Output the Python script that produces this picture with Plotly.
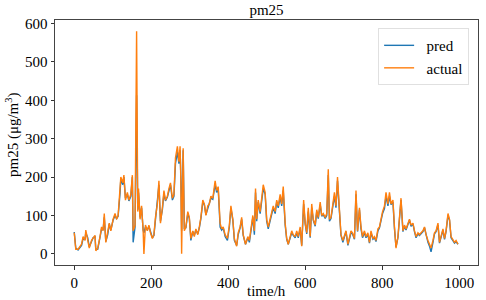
import plotly.graph_objects as go

time_h = [0, 4, 10, 19, 23, 28, 30, 35, 39, 45, 49, 54, 56, 61, 67, 71, 75, 78, 82, 87,
          91, 95, 101, 106, 110, 114, 119, 121, 126, 129, 133, 138, 142, 147, 151, 153, 158, 162, 165, 167,
          171, 175, 179, 181, 185, 190, 194, 198, 203, 207, 211, 216, 220, 224, 229, 233, 237, 242, 246, 250,
          255, 259, 263, 268, 272, 275, 277, 279, 283, 286, 290, 295, 299, 303, 308, 312, 316, 321, 325, 329,
          334, 338, 342, 347, 351, 355, 360, 366, 370, 374, 379, 383, 387, 392, 398, 403, 407, 412, 416, 422,
          426, 431, 435, 439, 445, 451, 455, 459, 464, 468, 471, 474, 478, 483, 487, 491, 496, 500, 504, 509,
          513, 517, 522, 526, 530, 535, 539, 543, 548, 552, 556, 561, 565, 569, 574, 578, 582, 587, 591, 596,
          600, 604, 608, 613, 617, 621, 626, 630, 634, 639, 643, 647, 652, 656, 660, 663, 667, 672, 676, 680,
          684, 689, 693, 698, 702, 706, 711, 715, 719, 723, 728, 732, 736, 741, 745, 749, 754, 758, 763, 767,
          771, 776, 780, 784, 789, 793, 797, 801, 806, 810, 815, 819, 823, 828, 832, 836, 841, 845, 849, 854,
          858, 862, 867, 871, 875, 880, 884, 888, 893, 897, 901, 906, 910, 914, 919, 923, 927, 932, 936, 940,
          945, 949, 953, 958, 962, 966, 971, 975, 979, 984, 988, 992, 997]

actual = [55, 12, 12, 25, 45, 35, 62, 40, 15, 35, 40, 48, 8, 15, 45, 70, 60, 105, 30, 55,
          80, 60, 90, 105, 90, 100, 165, 200, 185, 205, 140, 160, 140, 155, 205, 60, 75, 580, 110, 170,
          90, 125, 60, 0, 75, 60, 75, 55, 40, 50, 95, 130, 190, 80, 120, 165, 140, 150, 170, 185,
          145, 155, 250, 280, 240, 280, 190, 0, 275, 60, 70, 110, 95, 40, 60, 45, 65, 50, 70, 95,
          140, 130, 100, 125, 130, 150, 145, 190, 165, 175, 80, 65, 70, 50, 40, 75, 125, 90, 40, 20,
          55, 70, 95, 50, 25, 45, 35, 60, 100, 60, 170, 90, 140, 110, 140, 180, 160, 90, 70, 90,
          110, 125, 110, 140, 125, 155, 130, 175, 80, 40, 25, 45, 60, 50, 45, 60, 45, 70, 20, 140,
          80, 55, 120, 45, 130, 90, 75, 115, 95, 135, 100, 105, 95, 105, 220, 90, 95, 130, 160, 125,
          200, 115, 50, 35, 50, 60, 25, 40, 60, 55, 40, 165, 60, 120, 70, 45, 60, 45, 55, 30,
          60, 40, 45, 35, 65, 70, 95, 110, 125, 160, 130, 160, 130, 140, 70, 15, 45, 100, 145, 60,
          75, 65, 80, 90, 75, 80, 60, 45, 55, 50, 55, 60, 70, 50, 35, 25, 15, 35, 55, 60,
          80, 30, 45, 65, 40, 60, 105, 90, 45, 35, 30, 35, 25]

pred = [57, 15, 10, 22, 40, 38, 55, 42, 18, 32, 42, 45, 12, 12, 42, 65, 62, 95, 32, 50,
        78, 62, 88, 100, 92, 98, 158, 195, 180, 200, 145, 155, 138, 150, 200, 30, 70, 413, 115, 160,
        95, 120, 62, 55, 70, 62, 72, 58, 42, 48, 90, 125, 180, 85, 115, 158, 138, 148, 165, 180,
        140, 150, 235, 265, 235, 270, 200, 60, 270, 65, 68, 105, 92, 35, 58, 48, 62, 52, 68, 92,
        135, 128, 102, 120, 128, 145, 142, 180, 160, 170, 70, 62, 68, 45, 35, 70, 120, 88, 35, 22,
        50, 68, 90, 48, 25, 42, 30, 58, 95, 50, 160, 85, 135, 105, 135, 170, 155, 85, 65, 88,
        105, 120, 105, 135, 120, 148, 125, 165, 75, 38, 25, 40, 55, 48, 42, 55, 42, 65, 22, 130,
        78, 52, 110, 42, 120, 88, 72, 110, 92, 128, 98, 102, 92, 100, 205, 85, 92, 125, 150, 120,
        190, 110, 48, 30, 45, 58, 22, 38, 55, 52, 38, 155, 58, 115, 65, 42, 55, 42, 50, 28,
        55, 38, 42, 32, 60, 68, 90, 105, 118, 150, 125, 150, 128, 135, 65, 18, 42, 95, 140, 58,
        72, 62, 78, 88, 72, 78, 58, 42, 52, 48, 52, 58, 68, 48, 30, 20, 5, 30, 52, 58,
        75, 28, 42, 62, 38, 58, 100, 88, 42, 32, 28, 32, 25]

x_ticks = [0, 200, 400, 600, 800, 1000]
y_ticks = [0, 100, 200, 300, 400, 500, 600]

FONT = "Liberation Serif, Times New Roman, serif"
FS = 15
GAP = "\u00a0\u00a0"

fig = go.Figure()
fig.add_trace(go.Scatter(x=time_h, y=pred, mode="lines", name=GAP + "pred",
                         line=dict(color="#1f77b4", width=1.4)))
fig.add_trace(go.Scatter(x=time_h, y=actual, mode="lines", name=GAP + "actual",
                         line=dict(color="#ff7f0e", width=1.4)))

axis_common = dict(showgrid=False, zeroline=False, showline=True, linecolor="#444444",
                   linewidth=1, mirror=True, ticks="outside", ticklen=3.5, tickwidth=1,
                   tickcolor="#333333", automargin=False,
                   tickfont=dict(family=FONT, size=FS, color="black"))

fig.update_layout(
    width=486, height=300,
    margin=dict(l=55, r=8, t=20, b=35),
    paper_bgcolor="white", plot_bgcolor="white",
    font=dict(family=FONT, size=FS, color="black"),
    title=dict(text="pm25", xref="paper", x=0.5, xanchor="center",
               yref="container", y=1 - 10 / 300, yanchor="middle",
               font=dict(family=FONT, size=FS, color="black")),
    xaxis=dict(range=[-50, 1049], tickvals=x_ticks, **axis_common),
    yaxis=dict(range=[-29, 609], tickvals=y_ticks, **axis_common),
    legend=dict(x=0.979, y=0.967, xanchor="right", yanchor="top",
                bgcolor="rgba(255,255,255,0.8)", bordercolor="#e0e0e0", borderwidth=1,
                font=dict(family=FONT, size=15), itemwidth=30),
    showlegend=True,
    annotations=[
        dict(text="time/h", xref="paper", yref="paper", x=0.5, y=-(291 - 265) / 245,
             xanchor="center", yanchor="middle", showarrow=False,
             font=dict(family=FONT, size=FS, color="black")),
        dict(text="pm25 (μg/m<sup>3</sup>)", xref="paper", yref="paper",
             x=-(55 - 12) / 423, y=(265 - 135) / 245, textangle=-90,
             xanchor="center", yanchor="middle", showarrow=False,
             font=dict(family=FONT, size=FS, color="black")),
    ],
)

fig.write_html("out.html", config={"displayModeBar": False},
               post_script="document.body.style.margin='0px';")
